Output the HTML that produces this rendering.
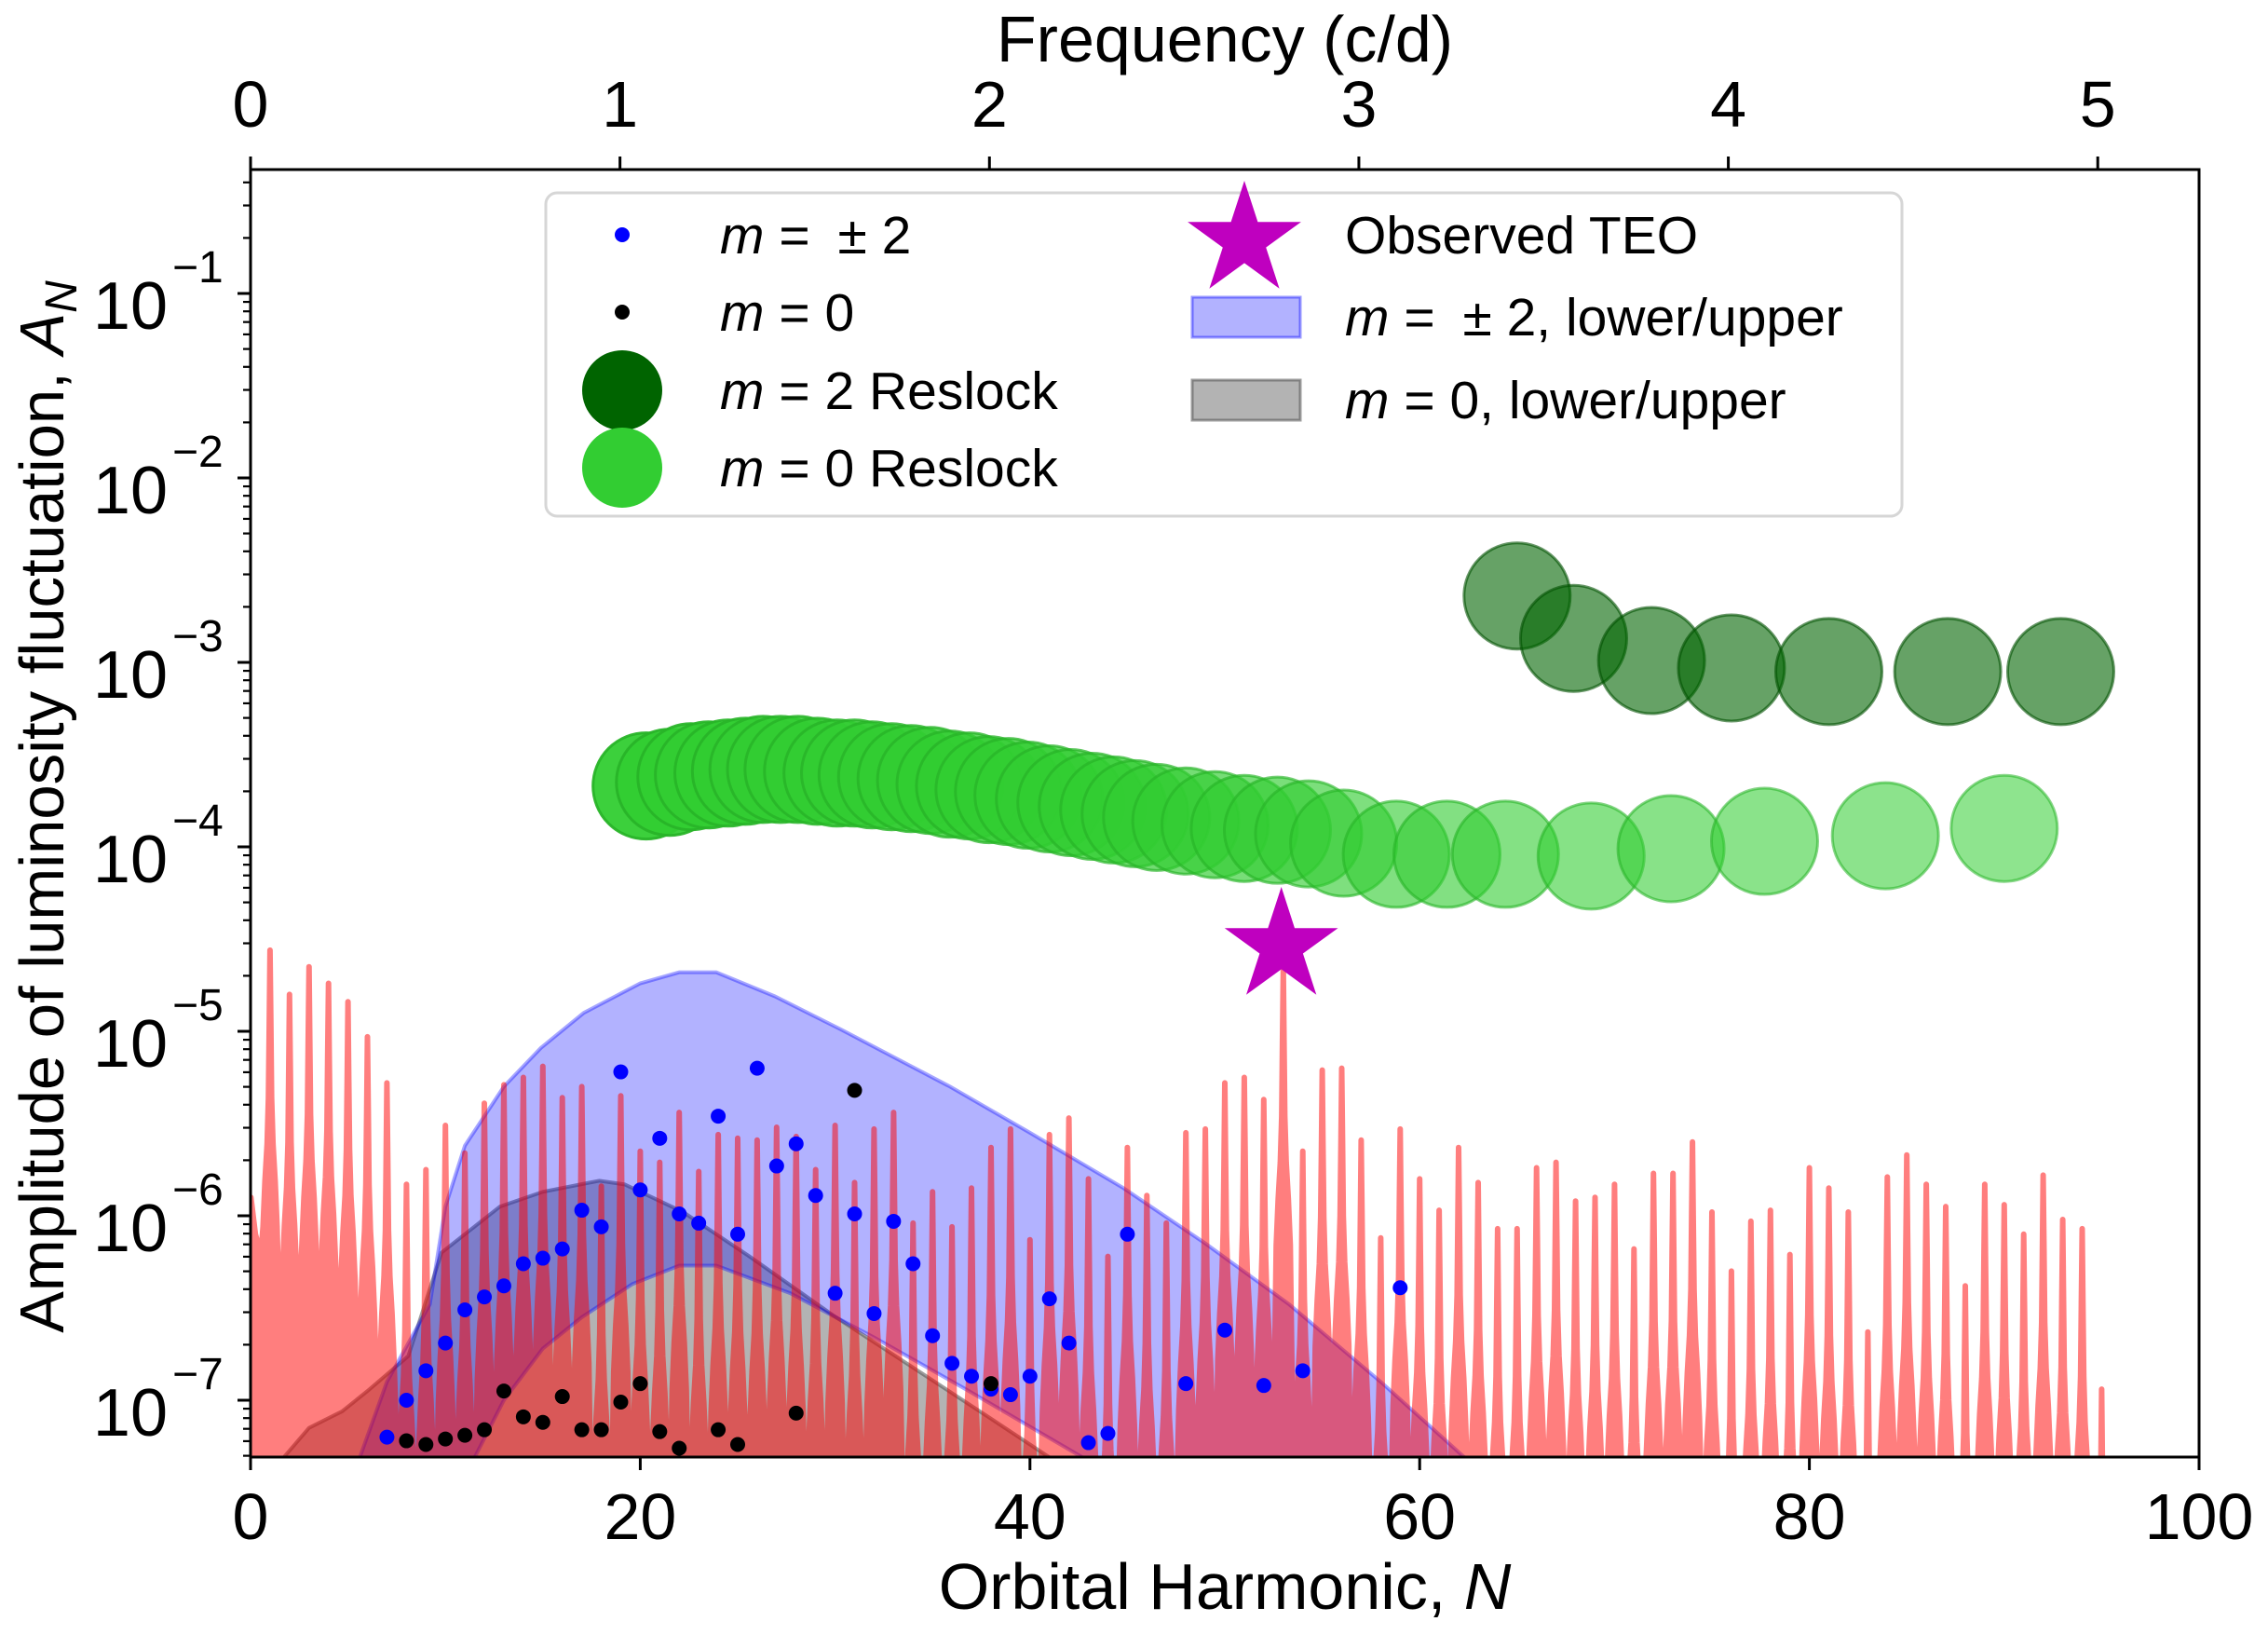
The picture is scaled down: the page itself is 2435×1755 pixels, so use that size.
<!DOCTYPE html>
<html><head><meta charset="utf-8"><style>
html,body{margin:0;padding:0;background:#fff;}
svg{display:block;font-family:"Liberation Sans",Arial,sans-serif;}
</style></head><body>
<svg id="chart" width="2435" height="1755" viewBox="0 0 2435 1755" xmlns="http://www.w3.org/2000/svg">
<defs><clipPath id="plotclip"><rect x="269" y="182" width="2092" height="1382"/></clipPath></defs>
<rect x="0" y="0" width="2435" height="1755" fill="#fff"/>
<g id="plot" clip-path="url(#plotclip)"></g>
<g id="axes"></g>
<g id="legend"></g>
</svg>
<script>
// ---- data (log10 amplitudes) ----
const spectrumPeaksLog = [-4.56,-4.80,-4.65,-4.74,-4.84,-5.03,-5.28,-5.83,-5.75,-5.51,-5.66,-5.39,-5.29,-5.25,-5.19,-5.36,-5.30,-5.84,-5.35,-5.65,-5.71,-5.44,-5.76,-5.56,-5.58,-5.59,-5.52,-5.57,-5.75,-5.51,-5.82,-5.53,-5.44,-6.04,-5.87,-6.06,-5.85,-5.63,-5.53,-6.13,-5.56,-5.47,-5.80,-6.22,-5.63,-5.89,-6.04,-5.55,-5.53,-5.28,-5.25,-5.37,-4.66,-5.65,-5.21,-5.20,-5.59,-6.12,-5.53,-5.80,-5.97,-5.63,-5.82,-6.07,-6.07,-5.74,-5.71,-5.92,-5.90,-5.83,-6.18,-5.77,-5.77,-5.60,-5.98,-6.30,-6.03,-5.97,-6.21,-5.74,-5.85,-5.98,-6.63,-5.79,-5.67,-5.83,-5.95,-6.38,-5.83,-5.94,-6.10,-5.78,-6.02,-6.07,-6.94];
const spectrumTroughsLog = [-6.2,-6.5,-6.4,-6.6,-6.5,-6.7,-6.9,-7.1,-7.3];
const blueUpperN = [5.3,7,9.2,10,11,13,14.9,17.1,20,22,23.9,26.9,30.3,35.9,40,44.8,49,53.3,58,62.3,64];
const blueUpperLog = [-7.4,-6.9,-6.48,-5.95,-5.62,-5.3,-5.09,-4.90,-4.74,-4.68,-4.68,-4.81,-4.99,-5.30,-5.55,-5.85,-6.15,-6.48,-6.9,-7.31,-7.45];
const blueLowerN = [11.5,13,15,17,19.6,22,23.9,27.7,32,36.7,42.7,45];
const blueLowerLog = [-7.31,-7.0,-6.72,-6.55,-6.37,-6.27,-6.27,-6.42,-6.66,-6.94,-7.31,-7.5];
const grayUpperN = [0,1.7,3,4.7,6,8.1,9.8,12.8,15,17.9,19.2,22.2,25.6,29.9,34.1,38,41,43];
const grayUpperLog = [-7.6,-7.31,-7.15,-7.06,-6.95,-6.76,-6.20,-5.95,-5.87,-5.81,-5.83,-5.98,-6.22,-6.54,-6.83,-7.1,-7.31,-7.5];
const m2DotsN = [7,8,9,10,11,12,13,14,15,16,17,18,19,20,21,22,23,24,25,26,27,28,29,30,31,32,33,34,35,36,37,38,39,40,41,42,43,44,45,48,50,52,54,59];
const m2DotsLog = [-7.2,-7.0,-6.84,-6.69,-6.51,-6.44,-6.38,-6.26,-6.23,-6.18,-5.97,-6.06,-5.22,-5.86,-5.58,-5.99,-6.04,-5.46,-6.10,-5.20,-5.73,-5.61,-5.89,-6.42,-5.99,-6.53,-6.03,-6.26,-6.65,-6.80,-6.87,-6.94,-6.97,-6.87,-6.45,-6.69,-7.23,-7.18,-6.10,-6.91,-6.62,-6.92,-6.84,-6.39];
const m0DotsN = [8,9,10,11,12,13,14,15,16,17,18,19,20,21,22,24,25,28,31,38];
const m0DotsLog = [-7.22,-7.24,-7.21,-7.19,-7.16,-6.95,-7.09,-7.12,-6.98,-7.16,-7.16,-7.01,-6.91,-7.17,-7.26,-7.16,-7.24,-7.07,-5.32,-6.91];
const reslock0N = [20.3,21.5,22.6,23.5,24.5,25.4,26.3,27.2,28.1,29.1,30.1,31.0,31.9,32.9,33.9,34.9,35.9,36.9,37.9,38.9,39.9,41.0,42.1,43.2,44.3,45.4,46.5,48.0,49.5,51.0,52.7,54.3,56.1,58.8,61.4,64.4,68.8,72.9,77.7,83.9,90.0];
const reslock0Log = [-3.67,-3.65,-3.62,-3.61,-3.60,-3.59,-3.58,-3.58,-3.58,-3.59,-3.60,-3.60,-3.61,-3.62,-3.63,-3.64,-3.66,-3.67,-3.69,-3.70,-3.72,-3.74,-3.76,-3.78,-3.80,-3.82,-3.84,-3.86,-3.88,-3.90,-3.91,-3.93,-3.98,-4.04,-4.04,-4.04,-4.05,-4.01,-3.97,-3.94,-3.90];
const reslock2N = [65.0,67.9,71.9,76.0,81.0,87.1,92.9];
const reslock2Log = [-2.64,-2.87,-2.99,-3.03,-3.05,-3.05,-3.05];
const teoN = [52.9];
const teoLog = [-4.51];
const xTicks = [0,20,40,60,80,100];
const freqTicks = [0,1,2,3,4,5];
const yTickExps = [-7,-6,-5,-4,-3,-2,-1];

// ---- scales ----
const NS='http://www.w3.org/2000/svg';
const X0=269, X1=2361, YT=182, YB=1564;
const X = n => X0 + n*(X1-X0)/100;
const Y = lg => 1503 - (lg+7)*198;
const N_PER_CD = 18.96;
function mk(tag, attrs, parent){const e=document.createElementNS(NS,tag);for(const k in attrs)e.setAttribute(k,attrs[k]);parent.appendChild(e);return e;}
const plot=document.getElementById('plot'), axes=document.getElementById('axes'), legend=document.getElementById('legend');

// gray band
let d='M'+X(grayUpperN[0])+','+(YB+20);
grayUpperN.forEach((n,i)=>{d+=' L'+X(n)+','+Y(grayUpperLog[i]);});
d+=' L'+X(grayUpperN[grayUpperN.length-1])+','+(YB+20)+' Z';
let g=mk('path',{d:d,fill:'rgba(128,128,128,0.6)',stroke:'rgba(90,90,90,0.6)','stroke-width':4},plot);



// blue band
d='';
blueUpperN.forEach((n,i)=>{d+=(i?' L':'M')+X(n)+','+Y(blueUpperLog[i]);});
for(let i=blueLowerN.length-1;i>=0;i--){d+=' L'+X(blueLowerN[i])+','+Y(blueLowerLog[i]);}
d+=' L'+X(blueLowerN[0])+','+(YB+40)+' L'+X(blueUpperN[0])+','+(YB+40)+' Z';
g=mk('path',{d:d,fill:'rgba(0,0,255,0.3)',stroke:'rgba(0,0,255,0.35)','stroke-width':4},plot);



// red spectrum
const trough = i => (i < spectrumTroughsLog.length ? spectrumTroughsLog[i] : -7.5);
let pts=[[0.02,-7.6],[0.02,-5.9],[0.25,-6.1],[0.5,trough(0)]];
spectrumPeaksLog.forEach((p,i)=>{
  const n=i+1;
  const tl=trough(i), tr=trough(i+1);
  const prof=[[-0.46,2.3],[-0.36,1.5],[-0.26,1.25],[-0.15,1.05],[-0.08,0.8],[-0.04,0.4],[0,0],[0.04,0.4],[0.08,0.8],[0.15,1.05],[0.26,1.25],[0.36,1.5],[0.46,2.3]];
  prof.forEach(([dx,dv])=>{const t=dx<0?tl:tr;pts.push([n+dx,Math.max(p-dv,t)]);});
  if(n<spectrumPeaksLog.length) pts.push([n+0.5,tr]);
});
pts.push([spectrumPeaksLog.length+0.12,-7.6]);
d='M'+pts.map(q=>X(q[0]).toFixed(1)+','+Y(q[1]).toFixed(1)).join(' L')+' Z';
g=mk('path',{d:d,fill:'#ff0000',stroke:'#ff0000','stroke-width':6,'stroke-linejoin':'round',opacity:0.5},plot);



// dots
m2DotsN.forEach((n,i)=>{const c=mk('circle',{cx:X(n),cy:Y(m2DotsLog[i]),r:8,fill:'#0000ff'},plot);

});
m0DotsN.forEach((n,i)=>{const c=mk('circle',{cx:X(n),cy:Y(m0DotsLog[i]),r:8,fill:'#000'},plot);

});

// reslock circles
reslock0N.forEach((n,i)=>{const a=(0.95-0.4*i/(reslock0N.length-1)).toFixed(3);
const c=mk('circle',{cx:X(n),cy:Y(reslock0Log[i]),r:57,fill:'rgba(50,205,50,'+a+')',stroke:'rgba(40,180,40,'+a+')','stroke-width':3},plot);

});
reslock2N.forEach((n,i)=>{const c=mk('circle',{cx:X(n),cy:Y(reslock2Log[i]),r:57,fill:'rgba(0,100,0,0.6)',stroke:'rgba(0,80,0,0.6)','stroke-width':3},plot);

});

// star
function starPath(cx,cy,R){const r=R*0.381966;let s='';for(let k=0;k<10;k++){const a=-Math.PI/2+k*Math.PI/5;const rr=k%2?r:R;s+=(k?' L':'M')+(cx+rr*Math.cos(a)).toFixed(1)+','+(cy+rr*Math.sin(a)).toFixed(1);}return s+' Z';}
teoN.forEach((n,i)=>{const s=mk('path',{d:starPath(X(n),Y(teoLog[i])+6,64),fill:'#bf00bf'},plot);

});

// spines
const fr=mk('rect',{x:X0,y:YT,width:X1-X0,height:YB-YT,fill:'none',stroke:'#000','stroke-width':3},axes);



// x ticks bottom
xTicks.forEach(v=>{mk('line',{x1:X(v),x2:X(v),y1:YB,y2:YB+14,stroke:'#000','stroke-width':3},axes);
const t=mk('text',{x:X(v),y:1652,'font-size':70,'text-anchor':'middle'},axes);t.textContent=v;

});
// top freq ticks
freqTicks.forEach(f=>{const xx=X(f*N_PER_CD);mk('line',{x1:xx,x2:xx,y1:YT,y2:YT-14,stroke:'#000','stroke-width':3},axes);
const t=mk('text',{x:xx,y:136,'font-size':70,'text-anchor':'middle'},axes);t.textContent=f;

});
// y ticks
for(let e=-8;e<=0;e++){for(let m=1;m<10;m++){const lg=e+Math.log10(m);const yy=Y(lg);if(yy<YT-1||yy>YB+1)continue;
mk('line',{x1:X0,x2:X0-(m===1?14:8),y1:yy,y2:yy,stroke:'#000','stroke-width':m===1?3:2.2},axes);}}
yTickExps.forEach(e=>{const yy=Y(e);const t=mk('text',{x:180,y:yy+38,'font-size':72,'text-anchor':'end'},axes);t.textContent='10';


const s=mk('text',{x:185,y:yy-12,'font-size':48,'text-anchor':'start'},axes);s.textContent='\u2212'+(-e);});

// axis titles
let t=mk('text',{x:1315,y:1727,'font-size':70,'text-anchor':'middle'},axes);
t.innerHTML='Orbital Harmonic, <tspan font-style="italic">N</tspan>';


t=mk('text',{x:1315,y:66,'font-size':70,'text-anchor':'middle'},axes);
t.textContent='Frequency (c/d)';


t=mk('text',{x:0,y:0,'font-size':67,'text-anchor':'middle',transform:'translate(68,866) rotate(-90)'},axes);
t.innerHTML='Amplitude of luminosity fluctuation, <tspan font-style="italic">A</tspan><tspan font-size="48" dy="14" font-style="italic">N</tspan>';



// legend
const lb=mk('rect',{x:586,y:207,width:1456,height:347,rx:12,fill:'rgba(255,255,255,0.8)',stroke:'#d6d6d6','stroke-width':3},legend);


function label(x,y,html,name){const e=mk('text',{x:x,y:y,'font-size':57},legend);e.innerHTML=html;

}
mk('circle',{cx:668,cy:252,r:8,fill:'#0000ff'},legend);
label(773,272,'<tspan font-style="italic">m</tspan> = <tspan dx="14">\u00b1 2</tspan>','legend-m2-label');
mk('circle',{cx:668,cy:335,r:8,fill:'#000'},legend);
label(773,355,'<tspan font-style="italic">m</tspan> = 0','legend-m0-label');
mk('circle',{cx:668,cy:419,r:43,fill:'#006400'},legend);
label(773,439,'<tspan font-style="italic">m</tspan> = 2 Reslock','legend-m2-reslock-label');
mk('circle',{cx:668,cy:502,r:43,fill:'#32cd32'},legend);
label(773,522,'<tspan font-style="italic">m</tspan> = 0 Reslock','legend-m0-reslock-label');
mk('path',{d:starPath(1336,258,64),fill:'#bf00bf'},legend);
label(1444,272,'Observed TEO','legend-teo-label');
mk('rect',{x:1280,y:319,width:116,height:43,fill:'rgba(0,0,255,0.3)',stroke:'rgba(0,0,255,0.4)','stroke-width':3},legend);
label(1444,360,'<tspan font-style="italic">m</tspan> = <tspan dx="14">\u00b1 2, lower/upper</tspan>','legend-m2-band-label');
mk('rect',{x:1280,y:408,width:116,height:43,fill:'rgba(128,128,128,0.6)',stroke:'rgba(90,90,90,0.6)','stroke-width':3},legend);
label(1444,449,'<tspan font-style="italic">m</tspan> = 0, lower/upper','legend-m0-band-label');
</script>
</body></html>
